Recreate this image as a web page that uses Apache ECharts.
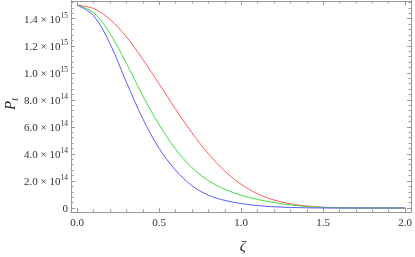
<!DOCTYPE html>
<html>
<head>
<meta charset="utf-8">
<script src="https://cdn.jsdelivr.net/npm/echarts@6/dist/echarts.min.js"></script>
<style>html,body{margin:0;padding:0;background:#fff}#c{width:415px;height:257px}</style>
</head>
<body>
<div id="c"></div>
<script>
// zeta values
const zeta = [0,0.1,0.2,0.3,0.4,0.5,0.6,0.7,0.8,0.9,1.0,1.1,1.2,1.3,1.4,1.5,1.6,1.7,1.8,1.9,2.0];
// P_t in units of 1e15
const redP   = [1.500,1.475,1.395,1.265,1.100,0.917,0.731,0.556,0.401,0.273,0.175,0.105,0.059,0.031,0.015,0.006,0.002,0,0,0,0];
const greenP = [1.500,1.445,1.290,1.070,0.830,0.615,0.435,0.298,0.203,0.139,0.094,0.063,0.040,0.023,0.011,0.004,0.001,0,0,0,0];
const blueP  = [1.500,1.423,1.215,0.930,0.660,0.440,0.280,0.165,0.095,0.056,0.033,0.018,0.009,0.004,0.0015,0,0,0,0,0,0];
const xMajor = [0, 0.5, 1.0, 1.5, 2.0];
const yMajor = [0, 0.2, 0.4, 0.6, 0.8, 1.0, 1.2, 1.4];
const yMantissa = ['0', '2.0', '4.0', '6.0', '8.0', '1.0', '1.2', '1.4'];
const yExponent = ['', '14', '14', '14', '14', '15', '15', '15'];

const xMinor = [];
for (let i = 1; i < 20; i++) if (i % 5) xMinor.push(+(i * 0.1).toFixed(2));
const yMinor = [];
for (let i = 1; i <= 38; i++) if (i % 5) yMinor.push(+(i * 0.04).toFixed(2));

const XMIN = -0.038, XMAX = 2.036, YMIN = -0.0296, YMAX = 1.531;
const FRAME = '#9a9a9a';
const SERIF = '"Liberation Serif", "DejaVu Serif", serif';

function xAx(pos, ticks, len, labels) {
  return {
    type: 'value', position: pos, min: XMIN, max: XMAX,
    axisLine: { show: true, onZero: false, lineStyle: { color: FRAME, width: 1 } },
    axisTick: { show: true, inside: true, length: len, customValues: ticks, lineStyle: { color: FRAME } },
    axisLabel: labels ? {
      show: true, customValues: xMajor, margin: 6, color: '#333', fontFamily: SERIF, fontSize: 11,
      formatter: v => v.toFixed(1)
    } : { show: false },
    splitLine: { show: false }
  };
}
function yAx(pos, ticks, len, labels) {
  return {
    type: 'value', position: pos, min: YMIN, max: YMAX,
    axisLine: { show: true, onZero: false, lineStyle: { color: FRAME, width: 1 } },
    axisTick: { show: true, inside: true, length: len, customValues: ticks, lineStyle: { color: FRAME } },
    axisLabel: labels ? {
      show: true, customValues: yMajor, margin: 3, color: '#333', fontFamily: SERIF, fontSize: 11,
      formatter: v => {
        const i = yMajor.findIndex(t => Math.abs(t - v) < 1e-6);
        if (i <= 0) return '{b|0}';
        return '{b|' + yMantissa[i] + ' \u00d7 10}{s|' + yExponent[i] + '}';
      },
      rich: {
        b: { fontFamily: SERIF, fontSize: 11, color: '#333', lineHeight: 14, verticalAlign: 'bottom' },
        s: { fontFamily: SERIF, fontSize: 7.5, color: '#333', lineHeight: 8, verticalAlign: 'top' }
      }
    } : { show: false },
    splitLine: { show: false }
  };
}

const mk = (arr) => zeta.map((z, i) => [z, arr[i]]);
const line = (name, arr, color) => ({
  name, type: 'line', xAxisIndex: 0, yAxisIndex: 0, data: mk(arr), showSymbol: false,
  smooth: 0.35, lineStyle: { color, width: 1 }, animation: false
});

const chart = echarts.init(document.getElementById('c'), null, { renderer: 'canvas' });
chart.setOption({
  animation: false,
  grid: { left: 71, right: 2, top: 1, bottom: 45, containLabel: false },
  xAxis: [xAx('bottom', xMajor, 4, true), xAx('bottom', xMinor, 2.5, false),
          xAx('top', xMajor, 4, false), xAx('top', xMinor, 2.5, false)],
  yAxis: [yAx('left', yMajor, 4, true), yAx('left', yMinor, 2.5, false),
          yAx('right', yMajor, 4, false), yAx('right', yMinor, 2.5, false)],
  series: [line('red', redP, '#ff5a5a'), line('green', greenP, '#3ede3e'), line('blue', blueP, '#5a5aff')],
  graphic: [
    { type: 'text', x: 242.7, y: 247, style: { text: '\u03b6', fontFamily: SERIF, fontStyle: 'italic', fontSize: 15, fill: '#222', align: 'center', verticalAlign: 'middle' } },
    { type: 'text', x: 12, y: 104, rotation: Math.PI / 2,
      style: { text: '{p|P}{t|t}', align: 'center', verticalAlign: 'middle',
        rich: { p: { fontFamily: SERIF, fontStyle: 'italic', fontSize: 15, fill: '#222', lineHeight: 16, verticalAlign: 'top' },
                t: { fontFamily: SERIF, fontStyle: 'italic', fontSize: 10, fill: '#222', lineHeight: 16, verticalAlign: 'bottom' } } } }
  ]
});
</script>
</body>
</html>
